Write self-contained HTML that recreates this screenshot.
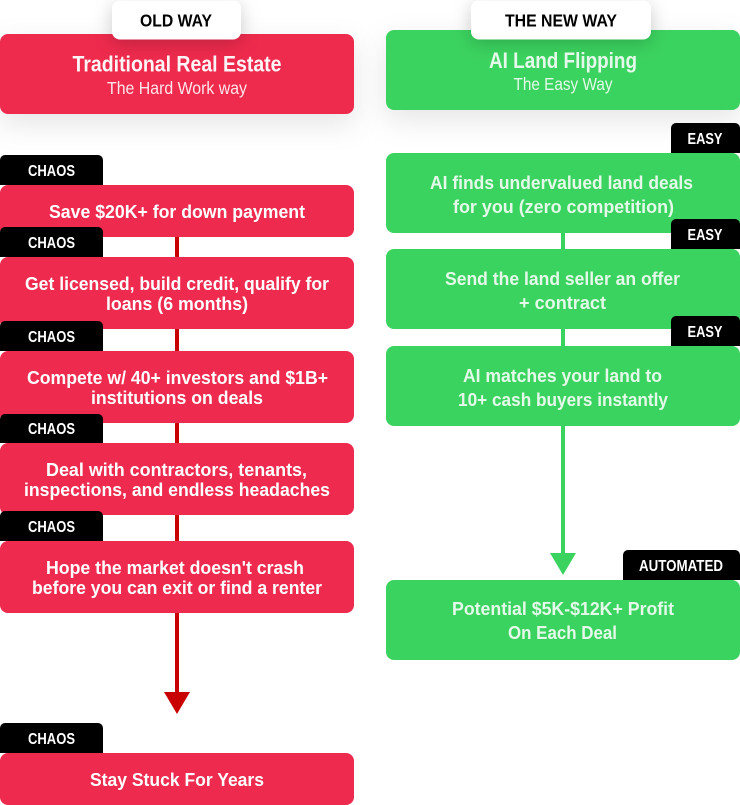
<!DOCTYPE html>
<html lang="en">
<head>
<meta charset="utf-8">
<title>Old Way vs New Way</title>
<style>
html,body{margin:0;padding:0;background:#fff}
body{width:740px;height:805px;overflow:hidden}
svg{display:block}
text{font-family:"Liberation Sans",sans-serif;font-weight:700;text-anchor:middle;fill:#fff}
.s{font-weight:400;fill:#fde6ea}
.g{fill:#e4f9e9}
.k{fill:#000}
</style>
</head>
<body>
<svg width="740" height="805" viewBox="0 0 740 805" xmlns="http://www.w3.org/2000/svg">
<defs>
<filter id="big" x="-20%" y="-30%" width="140%" height="190%"><feDropShadow dx="0" dy="10" stdDeviation="14" flood-color="#000" flood-opacity=".10"/></filter>
<filter id="pill" x="-40%" y="-60%" width="180%" height="260%"><feDropShadow dx="0" dy="4" stdDeviation="9" flood-color="#000" flood-opacity=".20"/></filter>
</defs>

<!-- connectors -->
<rect x="175" y="230" width="4" height="464" fill="#c80000"/>
<path d="M164 692H190L177 714Z" fill="#c80000"/>
<rect x="561" y="226" width="4" height="330" fill="#3bd35f"/>
<path d="M550 553H576L563 575Z" fill="#3bd35f"/>

<!-- titles -->
<rect x="0" y="34" width="354" height="80" rx="8" fill="#ee2a4e" filter="url(#big)"/>
<rect x="386" y="30" width="354" height="80" rx="8" fill="#3bd35f" filter="url(#big)"/>

<!-- pills -->
<rect x="112" y="0.500" width="129" height="39" rx="8" fill="#fff" filter="url(#pill)"/>
<rect x="471" y="0.500" width="180" height="39" rx="8" fill="#fff" filter="url(#pill)"/>
<text class="k" x="176" y="26.500" font-size="17.500" textLength="72" lengthAdjust="spacingAndGlyphs">OLD WAY</text>
<text class="k" x="561" y="26.500" font-size="17.500" textLength="112" lengthAdjust="spacingAndGlyphs">THE NEW WAY</text>

<text x="177" y="71.500" font-size="22" textLength="209" lengthAdjust="spacingAndGlyphs" fill-opacity=".95">Traditional Real Estate</text>
<text class="s" x="177" y="94" font-size="17.500" textLength="140" lengthAdjust="spacingAndGlyphs">The Hard Work way</text>
<text class="g" x="563" y="68" font-size="22" textLength="148" lengthAdjust="spacingAndGlyphs">AI Land Flipping</text>
<text class="s g" x="563" y="90" font-size="17.500" textLength="99" lengthAdjust="spacingAndGlyphs">The Easy Way</text>

<!-- left boxes -->
<g fill="#ee2a4e">
<rect x="0" y="185" width="354" height="52" rx="8"/>
<rect x="0" y="257" width="354" height="72" rx="8"/>
<rect x="0" y="351" width="354" height="72" rx="8"/>
<rect x="0" y="443" width="354" height="72" rx="8"/>
<rect x="0" y="541" width="354" height="72" rx="8"/>
<rect x="0" y="753" width="354" height="52" rx="8"/>
</g>
<g fill="#000">
<path d="M0 185V160a5 5 0 0 1 5-5H98a5 5 0 0 1 5 5V185Z"/>
<path d="M0 257V232a5 5 0 0 1 5-5H98a5 5 0 0 1 5 5V257Z"/>
<path d="M0 351V326a5 5 0 0 1 5-5H98a5 5 0 0 1 5 5V351Z"/>
<path d="M0 443V419a5 5 0 0 1 5-5H98a5 5 0 0 1 5 5V443Z"/>
<path d="M0 541V516a5 5 0 0 1 5-5H98a5 5 0 0 1 5 5V541Z"/>
<path d="M0 753V728a5 5 0 0 1 5-5H98a5 5 0 0 1 5 5V753Z"/>
</g>
<text x="51.500" y="176" font-size="15.500" textLength="47" lengthAdjust="spacingAndGlyphs">CHAOS</text>
<text x="51.500" y="248" font-size="15.500" textLength="47" lengthAdjust="spacingAndGlyphs">CHAOS</text>
<text x="51.500" y="342" font-size="15.500" textLength="47" lengthAdjust="spacingAndGlyphs">CHAOS</text>
<text x="51.500" y="434" font-size="15.500" textLength="47" lengthAdjust="spacingAndGlyphs">CHAOS</text>
<text x="51.500" y="532" font-size="15.500" textLength="47" lengthAdjust="spacingAndGlyphs">CHAOS</text>
<text x="51.500" y="744" font-size="15.500" textLength="47" lengthAdjust="spacingAndGlyphs">CHAOS</text>

<text x="177" y="218" font-size="18.500" textLength="256" lengthAdjust="spacingAndGlyphs">Save $20K+ for down payment</text>
<text x="177" y="290" font-size="18.500" textLength="304" lengthAdjust="spacingAndGlyphs">Get licensed, build credit, qualify for</text>
<text x="177" y="310" font-size="18.500" textLength="142" lengthAdjust="spacingAndGlyphs">loans (6 months)</text>
<text x="177.500" y="384" font-size="18.500" textLength="301" lengthAdjust="spacingAndGlyphs">Compete w/ 40+ investors and $1B+</text>
<text x="177" y="404" font-size="18.500" textLength="172" lengthAdjust="spacingAndGlyphs">institutions on deals</text>
<text x="176.500" y="476" font-size="18.500" textLength="261" lengthAdjust="spacingAndGlyphs">Deal with contractors, tenants,</text>
<text x="177" y="496" font-size="18.500" textLength="306" lengthAdjust="spacingAndGlyphs">inspections, and endless headaches</text>
<text x="175" y="574" font-size="18.500" textLength="258" lengthAdjust="spacingAndGlyphs">Hope the market doesn't crash</text>
<text x="177" y="594" font-size="18.500" textLength="290" lengthAdjust="spacingAndGlyphs">before you can exit or find a renter</text>
<text x="177" y="786" font-size="18.500" textLength="174" lengthAdjust="spacingAndGlyphs">Stay Stuck For Years</text>

<!-- right boxes -->
<g fill="#3bd35f">
<rect x="386" y="153" width="354" height="80" rx="8"/>
<rect x="386" y="249" width="354" height="80" rx="8"/>
<rect x="386" y="346" width="354" height="80" rx="8"/>
<rect x="386" y="580" width="354" height="80" rx="8"/>
</g>
<g fill="#000">
<path d="M671 153V128a5 5 0 0 1 5-5H735a5 5 0 0 1 5 5V153Z"/>
<path d="M671 249V224a5 5 0 0 1 5-5H735a5 5 0 0 1 5 5V249Z"/>
<path d="M671 346V321a5 5 0 0 1 5-5H735a5 5 0 0 1 5 5V346Z"/>
<path d="M623 580V555a5 5 0 0 1 5-5H735a5 5 0 0 1 5 5V580Z"/>
</g>
<text x="705" y="144" font-size="15.500" textLength="35" lengthAdjust="spacingAndGlyphs">EASY</text>
<text x="705" y="240" font-size="15.500" textLength="35" lengthAdjust="spacingAndGlyphs">EASY</text>
<text x="705" y="337" font-size="15.500" textLength="35" lengthAdjust="spacingAndGlyphs">EASY</text>
<text x="681" y="571" font-size="15.500" textLength="84" lengthAdjust="spacingAndGlyphs">AUTOMATED</text>

<text class="g" x="561.500" y="189" font-size="18.500" textLength="263" lengthAdjust="spacingAndGlyphs">AI finds undervalued land deals</text>
<text class="g" x="563.500" y="213" font-size="18.500" textLength="221" lengthAdjust="spacingAndGlyphs">for you (zero competition)</text>
<text class="g" x="562.500" y="285" font-size="18.500" textLength="235" lengthAdjust="spacingAndGlyphs">Send the land seller an offer</text>
<text class="g" x="562.500" y="309" font-size="18.500" textLength="87" lengthAdjust="spacingAndGlyphs">+ contract</text>
<text class="g" x="562.500" y="382" font-size="18.500" textLength="199" lengthAdjust="spacingAndGlyphs">AI matches your land to</text>
<text class="g" x="563" y="406" font-size="18.500" textLength="210" lengthAdjust="spacingAndGlyphs">10+ cash buyers instantly</text>
<text class="g" x="563" y="615" font-size="18.500" textLength="222" lengthAdjust="spacingAndGlyphs">Potential $5K-$12K+ Profit</text>
<text class="g" x="562.500" y="639" font-size="18.500" textLength="109" lengthAdjust="spacingAndGlyphs">On Each Deal</text>
</svg>
</body>
</html>
